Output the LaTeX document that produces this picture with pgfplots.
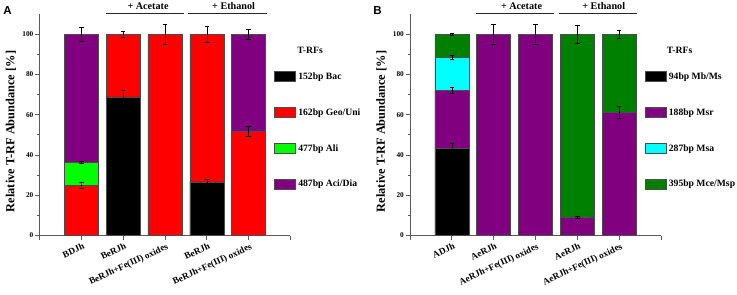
\documentclass[border=0pt]{standalone}
\usepackage{pgfplots}
\pgfplotsset{compat=1.18}
\usepackage{fontspec}
\setmainfont{Liberation Serif}
\newfontfamily\panelfont{Liberation Sans}
\definecolor{cpurple}{RGB}{128,0,128}
\definecolor{cred}{RGB}{255,0,0}
\definecolor{cgreen}{RGB}{0,255,0}
\definecolor{ccyan}{RGB}{0,255,255}
\definecolor{cdkgreen}{RGB}{0,128,0}
\definecolor{axisgray}{RGB}{90,90,90}
\newcommand{\fs}[1]{\fontsize{#1}{#1}\selectfont}
\pgfplotsset{
  panel/.style={
    scale only axis, width=251bp, height=221.4bp,
    anchor=south west,
    xmin=0, xmax=6, ymin=0, ymax=110,
    axis x line*=bottom, axis y line*=left,
    axis line style={axisgray, line width=0.8bp, -},
    tick align=outside,
    major tick length=4.5bp, minor tick length=2.5bp,
    tick style={axisgray, line width=0.8bp},
    xtick={0,1,2,3,4,5,6},
    ytick={0,20,40,60,80,100},
    minor y tick num=1,
    /pgf/number format/assume math mode=true,
    yticklabel style={font=\bfseries\fs{7.3}, inner sep=1.5bp},
    xticklabel style={font=\bfseries\fs{9.3}, xshift=1bp, yshift=-2.5bp, rotate=25, anchor=north east, inner sep=0pt},
    ylabel={Relative T-RF Abundance [\%]},
    ylabel style={font=\bfseries\fs{12.4}, at={(axis description cs:-0.1135,0.47)}, anchor=center},
    clip=false,
    legend cell align=left,
    legend style={draw=none, fill=none, at={(rel axis cs:0.934,0.742)}, anchor=north west, inner xsep=0pt, inner ysep=0pt, font=\bfseries\fs{9.7}, row sep=25.4bp, column sep=2.7bp, nodes={inner sep=0pt, minimum height=10bp}},
  },
  seg/.style={ybar, bar width=34bp, bar shift=0pt, draw=black!70, line width=0.5bp, fill=#1, forget plot},
  legbox/.style={legend image code/.code={\draw[##1] (0bp,-5bp) rectangle (21bp,5bp);}, fill=#1, draw=black!70, line width=0.5bp},
  errb/.style={draw=none, mark=none, forget plot, error bars/.cd, y dir=both, y explicit, error mark=-, error bar style={draw=black, line width=0.6bp, solid}, error mark options={draw=black, line width=0.6bp, mark size=2.2bp, rotate=90}},
}
\begin{document}
\begin{tikzpicture}
\useasboundingbox (0,0) rectangle (737bp,-295bp);
% ---------------- Panel A ----------------
\begin{axis}[panel, at={(39.5bp,-235.5bp)},
  xticklabels={,BDJh,BeRJh,BeRJh+Fe(III) oxides,BeRJh,BeRJh+Fe(III) oxides,}]
\addplot[seg=cpurple] coordinates {(1,100) (5,100)};
\addplot[seg=cgreen] coordinates {(1,36.3)};
\addplot[seg=cred] coordinates {(1,24.8) (2,100) (3,100) (4,100) (5,51.8)};
\addplot[seg=black] coordinates {(2,68.9) (4,26.7)};
\addplot[errb] coordinates {
  (1,24.8) +- (0,1.5) (1,36.3) +- (0,0.6) (1,100) +- (0,3.3)
  (2,68.9) +- (0,3.3) (2,100) +- (0,1.6)
  (3,100) +- (0,5.0)
  (4,26.7) +- (0,1.3) (4,100) +- (0,3.8)
  (5,51.8) +- (0,2.6) (5,100) +- (0,2.5)};
\addlegendimage{legbox=black}\addlegendentry{152bp Bac}
\addlegendimage{legbox=cred}\addlegendentry{162bp Geo/Uni}
\addlegendimage{legbox=cgreen}\addlegendentry{477bp Ali}
\addlegendimage{legbox=cpurple}\addlegendentry{487bp Aci/Dia}
\node[font=\bfseries\fs{9.7}] at (rel axis cs:1.078,0.837) {T-RFs};
\draw[black!85, line width=0.8bp] (axis cs:1.6,110.3) -- (axis cs:3.45,110.3);
\draw[black!85, line width=0.8bp] (axis cs:3.55,110.3) -- (axis cs:5.45,110.3);
\node[font=\bfseries\fs{10.2}, anchor=base] at (axis cs:2.595,112.1) {+ Acetate};
\node[font=\bfseries\fs{10.2}, anchor=base] at (axis cs:4.64,112.1) {+ Ethanol};
\node[font=\panelfont\bfseries\fs{11.6}, anchor=base west, inner sep=0pt] at (axis description cs:-0.145,0.996) {A};
\end{axis}
% ---------------- Panel B ----------------
\begin{axis}[panel, at={(410bp,-235.5bp)},
  xticklabels={,ADJh,AeRJh,AeRJh+Fe(III) oxides,AeRJh,AeRJh+Fe(III) oxides,}]
\addplot[seg=cdkgreen] coordinates {(1,100) (4,100) (5,100)};
\addplot[seg=ccyan] coordinates {(1,88.7)};
\addplot[seg=cpurple] coordinates {(1,72.1) (2,100) (3,100) (4,8.9) (5,61.3)};
\addplot[seg=black] coordinates {(1,43.5)};
\addplot[errb] coordinates {
  (1,43.5) +- (0,2.3) (1,72.1) +- (0,1.4) (1,88.7) +- (0,1.0) (1,100) +- (0,0.5)
  (2,100) +- (0,5.0)
  (3,100) +- (0,5.0)
  (4,8.9) +- (0,0.5) (4,100) +- (0,4.6)
  (5,61.3) +- (0,3.0) (5,100) +- (0,1.8)};
\addlegendimage{legbox=black}\addlegendentry{94bp Mb/Ms}
\addlegendimage{legbox=cpurple}\addlegendentry{188bp Msr}
\addlegendimage{legbox=ccyan}\addlegendentry{287bp Msa}
\addlegendimage{legbox=cdkgreen}\addlegendentry{395bp Mce/Msp}
\node[font=\bfseries\fs{9.7}] at (rel axis cs:1.074,0.837) {T-RFs};
\draw[black!85, line width=0.8bp] (axis cs:1.57,110.3) -- (axis cs:3.45,110.3);
\draw[black!85, line width=0.8bp] (axis cs:3.55,110.3) -- (axis cs:5.43,110.3);
\node[font=\bfseries\fs{10.2}, anchor=base] at (axis cs:2.667,112.1) {+ Acetate};
\node[font=\bfseries\fs{10.2}, anchor=base] at (axis cs:4.63,112.1) {+ Ethanol};
\node[font=\panelfont\bfseries\fs{11.6}, anchor=base west, inner sep=0pt] at (axis description cs:-0.147,0.996) {B};
\end{axis}
\end{tikzpicture}
\end{document}
